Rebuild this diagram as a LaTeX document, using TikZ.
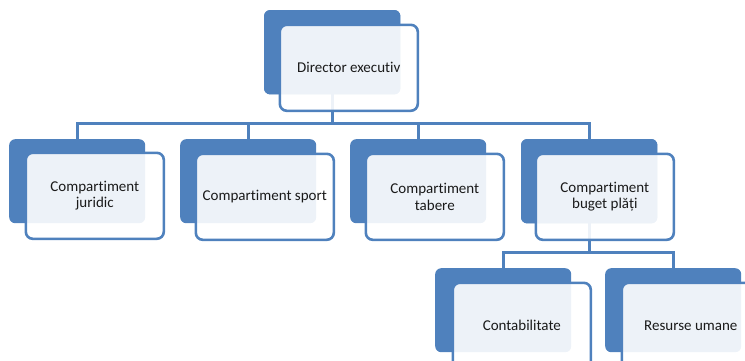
\documentclass[tikz,border=0pt]{standalone}
\usepackage{fontspec}
\setmainfont{Carlito}[Ligatures={NoCommon,NoContextual}]
\definecolor{accent}{HTML}{4F81BD}
\definecolor{inktext}{HTML}{1A1A1A}
\tikzset{
  backbox/.style={rectangle, rounded corners=6pt, fill=accent, draw=none,
    minimum width=136pt, minimum height=84pt, inner sep=0pt, anchor=north west},
  frontbox/.style={rectangle, rounded corners=7pt, draw=accent, line width=2.6pt,
    fill=white, fill opacity=0.9, text opacity=1, text=inktext,
    minimum width=138pt, minimum height=86pt, inner sep=2pt, anchor=north west,
    align=center, font=\fontsize{15}{16.5}\selectfont},
  link/.style={draw=accent, line width=3pt}
}
\begin{document}
\begin{tikzpicture}[x=1pt,y=-1pt]
\useasboundingbox (0,0) rectangle (745,360);
\clip (0,0) rectangle (745,360);

% bus levels for the two rows of links
\coordinate (busA) at (0,123);
\coordinate (busB) at (0,252);

% back plates
\node[backbox] (dirB) at (264,10) {};
\node[backbox] (jurB) at (9,139) {};
\node[backbox] (spoB) at (180,139) {};
\node[backbox] (tabB) at (350,139) {};
\node[backbox] (bugB) at (521,139) {};
\node[backbox] (conB) at (435,268) {};
\node[backbox] (resB) at (605,268) {};

% links: parent plate bottom -> bus -> child plate top
\draw[link] (dirB.south) -- (dirB.south |- busA) -| (jurB.north);
\draw[link] (dirB.south |- busA) -| (spoB.north);
\draw[link] (dirB.south |- busA) -| (tabB.north);
\draw[link] (dirB.south |- busA) -| (bugB.north);
\draw[link] (bugB.south) -- (bugB.south |- busB) -| (conB.north);
\draw[link] (bugB.south |- busB) -| (resB.north);

% redraw plates over the link starts
\fill[accent, rounded corners=6pt] (dirB.north west) rectangle (dirB.south east);
\fill[accent, rounded corners=6pt] (bugB.north west) rectangle (bugB.south east);

% front cards with the titles
\node[frontbox] (dirF) at (278.5,23.5) {Director executiv};
\node[frontbox] (jurF) at (24.5,151.5) {Compartiment\\juridic};
\node[frontbox] (spoF) at (194.5,152.5) {Compartiment sport};
\node[frontbox] (tabF) at (364.5,152.5) {Compartiment\\tabere};
\node[frontbox] (bugF) at (534.5,152.5) {Compartiment\\buget plăți};
\node[frontbox] (conF) at (451.5,281.5) {Contabilitate};
\node[frontbox] (resF) at (620.5,281.5) {Resurse umane};
\end{tikzpicture}
\end{document}
